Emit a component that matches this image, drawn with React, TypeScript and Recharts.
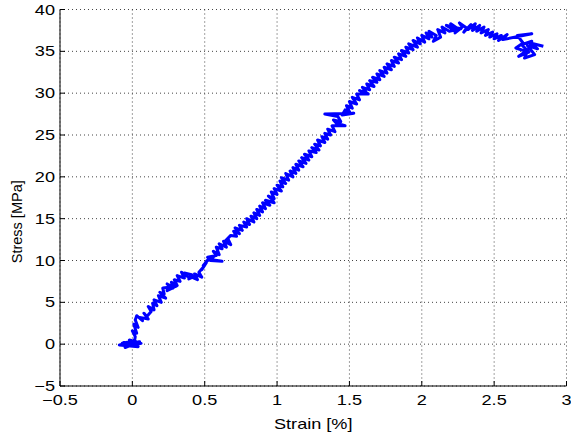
import React from 'react';
import { LineChart, Line, XAxis, YAxis, CartesianGrid, Label } from 'recharts';

// Measured tensile response: strain in percent, stress in MPa (in recording order)
const strain = [
  0.0, -0.06, 0.04, -0.09, 0.05, -0.05, 0.02, -0.07, 0.03, -0.02, 0.06, 0.01,
  0.02, 0.0, 0.03, 0.01, 0.04, 0.02, 0.03, 0.07, 0.05, 0.11, 0.08, 0.1, 0.13, 0.11,
  0.15, 0.14, 0.17, 0.15, 0.2, 0.18, 0.23, 0.19, 0.22, 0.21, 0.3, 0.24, 0.26, 0.24,
  0.28, 0.27, 0.31, 0.29, 0.33, 0.31, 0.36, 0.34, 0.38, 0.36, 0.41, 0.39, 0.44, 0.41,
  0.45, 0.43, 0.48, 0.46, 0.49, 0.48, 0.51, 0.49, 0.53, 0.51, 0.56, 0.54, 0.62, 0.55,
  0.52, 0.58, 0.56, 0.6, 0.58, 0.62, 0.6, 0.65, 0.63, 0.68, 0.66, 0.64, 0.68, 0.72,
  0.7, 0.74, 0.71, 0.76, 0.74, 0.79, 0.77, 0.81, 0.79, 0.84, 0.82, 0.86, 0.84, 0.88,
  0.86, 0.9, 0.88, 0.92, 0.9, 0.95, 0.92, 0.98, 0.96, 0.94, 0.98, 0.96, 1.0, 0.98,
  1.03, 1.0, 1.04, 1.02, 1.06, 1.03, 1.08, 1.06, 1.11, 1.09, 1.13, 1.11, 1.15, 1.13,
  1.18, 1.15, 1.2, 1.17, 1.22, 1.19, 1.24, 1.22, 1.27, 1.24, 1.29, 1.26, 1.3, 1.28,
  1.33, 1.31, 1.35, 1.33, 1.37, 1.35, 1.4, 1.38, 1.47, 1.41, 1.39, 1.44, 1.42, 1.33,
  1.53, 1.45, 1.47, 1.5, 1.48, 1.52, 1.5, 1.55, 1.52, 1.57, 1.55, 1.63, 1.57, 1.62,
  1.59, 1.64, 1.62, 1.67, 1.64, 1.69, 1.66, 1.71, 1.69, 1.74, 1.71, 1.76, 1.74, 1.79,
  1.76, 1.81, 1.79, 1.84, 1.81, 1.86, 1.84, 1.89, 1.86, 1.91, 1.89, 1.94, 1.91, 1.97,
  1.94, 1.99, 1.97, 2.02, 2.0, 2.05, 2.03, 2.07, 2.05, 2.1, 2.08, 2.13, 2.11, 2.16,
  2.14, 2.19, 2.27, 2.17, 2.22, 2.2, 2.25, 2.23, 2.28, 2.26, 2.31, 2.29, 2.34, 2.32,
  2.37, 2.35, 2.4, 2.38, 2.43, 2.41, 2.46, 2.44, 2.49, 2.47, 2.52, 2.5, 2.55, 2.53,
  2.59, 2.56, 2.76, 2.66, 2.7, 2.65, 2.72, 2.67, 2.74, 2.69, 2.76, 2.71, 2.78, 2.73,
  2.8, 2.75, 2.84,
];

const stress = [
  0.0, 0.2, -0.3, -0.1, 0.3, -0.4, 0.4, 0.1, -0.2, 0.5, 0.1, -0.1,
  0.9, 1.6, 1.3, 2.4, 2.0, 2.9, 3.4, 2.8, 3.2, 3.0, 3.7, 3.3, 3.9, 4.5,
  4.1, 4.9, 4.6, 5.3, 5.0, 5.8, 5.5, 6.2, 6.0, 6.7, 6.9, 6.4, 7.0, 7.2,
  6.7, 7.4, 7.0, 7.7, 7.5, 8.2, 7.9, 8.6, 8.1, 8.5, 8.3, 7.8, 8.2, 8.0,
  7.7, 8.4, 8.0, 8.6, 9.2, 8.9, 9.7, 9.4, 10.2, 9.9, 10.4, 10.0, 9.9, 10.1,
  10.4, 10.6, 11.1, 10.7, 11.6, 11.4, 12.0, 11.6, 12.3, 11.9, 12.6, 12.3, 13.0, 12.9,
  13.5, 13.2, 13.9, 13.6, 14.2, 14.0, 14.6, 14.3, 15.0, 14.6, 15.3, 15.0, 15.7, 15.4,
  16.1, 15.8, 16.5, 16.2, 16.9, 16.6, 17.2, 16.9, 17.4, 17.7, 17.4, 18.2, 17.9, 18.6,
  18.3, 19.0, 18.8, 19.5, 19.2, 19.9, 19.6, 20.4, 20.0, 20.7, 20.4, 21.1, 20.8, 21.5,
  21.2, 21.9, 21.6, 22.3, 22.0, 22.7, 22.4, 23.1, 22.9, 23.5, 23.2, 23.9, 23.7, 24.4,
  24.1, 24.8, 24.5, 25.2, 25.0, 25.7, 25.4, 26.1, 26.1, 26.4, 26.8, 26.6, 27.2, 27.5,
  27.6, 27.4, 28.0, 27.8, 28.5, 28.2, 29.0, 28.7, 29.5, 29.2, 29.9, 29.9, 30.3, 30.0,
  30.7, 30.4, 31.1, 30.8, 31.5, 31.3, 31.9, 31.6, 32.3, 32.0, 32.7, 32.4, 33.1, 32.8,
  33.5, 33.2, 33.9, 33.6, 34.3, 34.0, 34.7, 34.4, 35.1, 34.8, 35.5, 35.2, 35.9, 35.5,
  36.3, 35.9, 36.6, 36.1, 36.9, 36.5, 37.2, 36.7, 37.4, 36.9, 36.2, 36.7, 37.6, 37.2,
  37.9, 37.4, 37.7, 38.1, 37.6, 38.3, 37.7, 37.2, 37.9, 38.4, 37.8, 37.3, 38.2, 37.6,
  38.3, 37.5, 38.1, 37.4, 37.9, 37.2, 37.6, 36.9, 37.3, 36.7, 37.1, 36.5, 36.9, 36.3,
  37.0, 36.4, 37.1, 36.9, 36.0, 35.4, 35.0, 34.4, 34.9, 35.8, 36.2, 34.2, 34.6, 35.7,
  35.3, 36.0, 35.6,
];

const xTicks = [-0.5, 0, 0.5, 1, 1.5, 2, 2.5, 3];
const yTicks = [-5, 0, 5, 10, 15, 20, 25, 30, 35, 40];

const data = strain.map((s, i) => ({ strain: s, stress: stress[i] }));

const FONT = '"Liberation Sans", Arial, Helvetica, sans-serif';
const FONT_SIZE = 14.5;
const STRETCH = 1.25; // text is drawn slightly wide
const fmt = (v: number) => String(v).replace('-', '\u2212');

const XTick = (props: any) => {
  const { x, y, payload } = props;
  return (
    <text
      transform={`translate(${x},${y}) scale(${STRETCH},1)`}
      textAnchor="middle"
      dy="0.71em"
      fill="#000"
      fontSize={FONT_SIZE}
      fontFamily={FONT}
    >
      {fmt(payload.value)}
    </text>
  );
};

const YTick = (props: any) => {
  const { x, y, payload } = props;
  return (
    <text
      transform={`translate(${x},${y}) scale(${STRETCH},1)`}
      textAnchor="end"
      dy="0.355em"
      fill="#000"
      fontSize={FONT_SIZE}
      fontFamily={FONT}
    >
      {fmt(payload.value)}
    </text>
  );
};

const XTitle = (props: any) => {
  const vb = props.viewBox;
  const cx = vb.x + vb.width / 2;
  const cy = vb.y + vb.height - 9;
  return (
    <text
      transform={`translate(${cx},${cy}) scale(${STRETCH},1)`}
      textAnchor="middle"
      fill="#000"
      fontSize={FONT_SIZE}
      fontFamily={FONT}
    >
      Strain [%]
    </text>
  );
};

const YTitle = (props: any) => {
  const vb = props.viewBox;
  const cx = vb.x + 22;
  const cy = vb.y + vb.height / 2 + 24;
  return (
    <text
      transform={`translate(${cx},${cy}) rotate(-90)`}
      textAnchor="middle"
      fill="#000"
      fontSize={FONT_SIZE}
      fontFamily={FONT}
    >
      Stress [MPa]
    </text>
  );
};

export default function App() {
  return (
    <div style={{ position: 'absolute', left: 0, top: 0, background: '#fff' }}>
      <LineChart
        width={571}
        height={438}
        data={data}
        margin={{ top: 9.5, right: 4.5, bottom: 0, left: 0 }}
      >
        <CartesianGrid stroke="#444" strokeDasharray="1 3" />
        <XAxis
          dataKey="strain"
          type="number"
          domain={[-0.5, 3]}
          ticks={xTicks}
          allowDataOverflow
          height={52}
          tickSize={-5}
          tickMargin={14}
          tick={<XTick />}
          stroke="#000"
          interval={0}
        >
          <Label content={<XTitle />} />
        </XAxis>
        <XAxis
          xAxisId="top"
          orientation="top"
          type="number"
          domain={[-0.5, 3]}
          ticks={xTicks}
          allowDataOverflow
          height={0}
          tickSize={-5}
          tick={false}
          stroke="#000"
          interval={0}
        />
        <YAxis
          dataKey="stress"
          type="number"
          domain={[-5, 40]}
          ticks={yTicks}
          allowDataOverflow
          width={60}
          tickSize={-5}
          tickMargin={10}
          tick={<YTick />}
          stroke="#000"
          interval={0}
        >
          <Label content={<YTitle />} />
        </YAxis>
        <YAxis
          yAxisId="right"
          orientation="right"
          type="number"
          domain={[-5, 40]}
          ticks={yTicks}
          allowDataOverflow
          width={0}
          tickSize={-5}
          tick={false}
          stroke="#000"
          interval={0}
        />
        <Line
          dataKey="stress"
          stroke="#0000ff"
          strokeWidth={3}
          dot={false}
          isAnimationActive={false}
          strokeLinejoin="round"
        />
      </LineChart>
    </div>
  );
}
